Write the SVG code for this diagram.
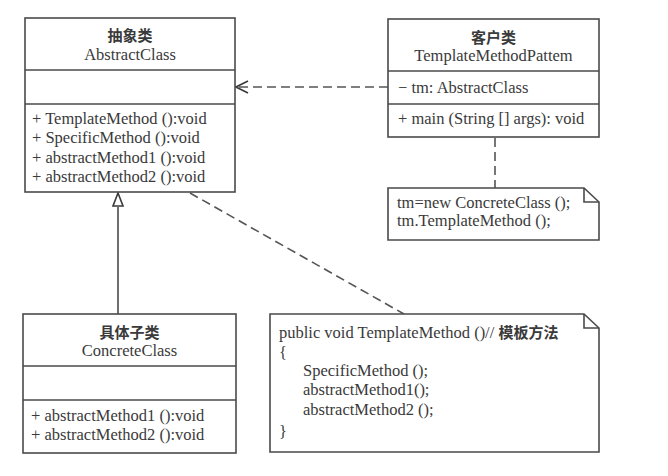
<svg xmlns="http://www.w3.org/2000/svg" width="668" height="476" viewBox="0 0 668 476">
<defs>
<style>
.box{fill:#fff;stroke:#4a4a4a;stroke-width:1.6}
.ln{stroke:#4a4a4a;stroke-width:1.6;fill:none}
.dash{stroke:#555;stroke-width:1.6;fill:none;stroke-dasharray:9 5}
.t{font-family:"Liberation Serif","Times New Roman",serif;font-size:16.5px;fill:#3a3a3a}
.c{text-anchor:middle}
.zh{font-family:"Noto Sans CJK SC","Noto Sans",sans-serif;font-size:15px;font-weight:bold;fill:#3a3a3a;text-anchor:middle}
.zhi{font-family:"Noto Sans CJK SC","Noto Sans",sans-serif;font-size:15px;font-weight:bold;fill:#3a3a3a}
</style>
<marker id="open" markerWidth="14" markerHeight="14" refX="13" refY="7" orient="auto" markerUnits="userSpaceOnUse">
<path d="M1,1 L13,7 L1,13" fill="none" stroke="#3a3a3a" stroke-width="1.6"/>
</marker>
</defs>
<rect width="668" height="476" fill="#fff"/>

<g id="connectors">
<line class="dash" x1="388" y1="87" x2="236" y2="87" marker-end="url(#open)"/>
<line class="ln" x1="118" y1="314" x2="118" y2="207"/>
<path d="M118,193 L123,206 L113,206 Z" fill="#fff" stroke="#3a3a3a" stroke-width="1.6"/>
<line class="dash" x1="495" y1="138" x2="495" y2="188"/>
<line class="dash" x1="190" y1="193" x2="404" y2="314"/>
</g>

<g id="AbstractClass">
<rect class="box" x="25" y="18" width="210" height="174"/>
<line class="ln" x1="25" y1="70" x2="235" y2="70"/>
<line class="ln" x1="25" y1="104" x2="235" y2="104"/>
<text class="zh" x="130" y="41">抽象类</text>
<text class="t c" x="130" y="60">AbstractClass</text>
<text class="t" x="32" y="124">+ TemplateMethod ():void</text>
<text class="t" x="32" y="143">+ SpecificMethod ():void</text>
<text class="t" x="32" y="163">+ abstractMethod1 ():void</text>
<text class="t" x="32" y="182">+ abstractMethod2 ():void</text>
</g>

<g id="TemplateMethodPattem">
<rect class="box" x="388" y="19" width="211" height="118"/>
<line class="ln" x1="388" y1="71" x2="599" y2="71"/>
<line class="ln" x1="388" y1="104" x2="599" y2="104"/>
<text class="zh" x="493.5" y="43">客户类</text>
<text class="t c" x="493.5" y="61">TemplateMethodPattem</text>
<text class="t" x="398" y="93">− tm: AbstractClass</text>
<text class="t" x="398" y="124">+ main (String [] args): void</text>
</g>

<g id="ClientNote">
<path class="box" d="M388,188 L584,188 L599,202 L599,240 L388,240 Z"/>
<path class="ln" d="M584,188 L584,202 L599,202"/>
<text class="t" x="397" y="208">tm=new ConcreteClass ();</text>
<text class="t" x="397" y="226">tm.TemplateMethod ();</text>
</g>

<g id="ConcreteClass">
<rect class="box" x="23" y="314" width="213" height="139"/>
<line class="ln" x1="23" y1="366" x2="236" y2="366"/>
<line class="ln" x1="23" y1="400" x2="236" y2="400"/>
<text class="zh" x="129.5" y="338">具体子类</text>
<text class="t c" x="129.5" y="356">ConcreteClass</text>
<text class="t" x="31" y="421">+ abstractMethod1 ():void</text>
<text class="t" x="31" y="440">+ abstractMethod2 ():void</text>
</g>

<g id="TemplateNote">
<path class="box" d="M270,314 L584,314 L599,328 L599,452 L270,452 Z"/>
<path class="ln" d="M584,314 L584,328 L599,328"/>
<text class="t" x="279" y="338">public void TemplateMethod ()// <tspan class="zhi">模板方法</tspan></text>
<text class="t" x="279" y="358">{</text>
<text class="t" x="303" y="376">SpecificMethod ();</text>
<text class="t" x="303" y="395">abstractMethod1();</text>
<text class="t" x="303" y="415">abstractMethod2 ();</text>
<text class="t" x="279" y="437">}</text>
</g>
</svg>
